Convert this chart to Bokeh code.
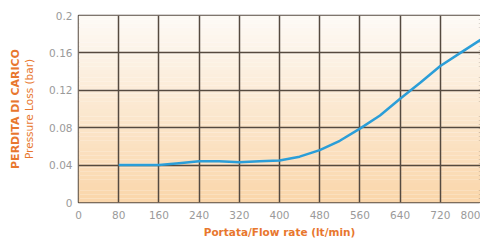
import numpy as np
from bokeh.plotting import figure
from bokeh.models import FixedTicker, Range1d, LinearAxis
from bokeh.embed import file_html
from bokeh.resources import INLINE

# data
flow = [80, 120, 160, 200, 240, 280, 320, 360, 400, 440, 480, 520, 560, 600, 640, 680, 720, 760, 800]
loss = [0.040, 0.040, 0.040, 0.042, 0.044, 0.044, 0.043, 0.044, 0.045, 0.049, 0.056, 0.066,
        0.079, 0.093, 0.111, 0.128, 0.146, 0.160, 0.174]
x_ticks = [0, 80, 160, 240, 320, 400, 480, 560, 640, 720, 800]
y_ticks = [0, 0.04, 0.08, 0.12, 0.16, 0.2]
y_tick_labels = ["0", "0.04", "0.08", "0.12", "0.16", "0.2"]
x_title = "Portata/Flow rate (lt/min)"
y_title_1 = "PERDITA DI CARICO"
y_title_2 = "Pressure Loss (bar)"

FONT = "DejaVu Sans"
ORANGE = "#e8772e"
GRID = "#554a40"

p = figure(width=480, height=240, output_backend="svg", toolbar_location=None,
           x_range=Range1d(x_ticks[0], x_ticks[-1]), y_range=Range1d(y_ticks[0], y_ticks[-1]),
           min_border_left=78, min_border_right=0, min_border_top=15, min_border_bottom=0)
p.outline_line_color = GRID
p.outline_line_width = 1.5
p.background_fill_color = "white"
p.border_fill_color = "white"

# gradient background (decorative bands)
n = 48
edges = np.linspace(y_ticks[0], y_ticks[-1], n + 1)
top_c = np.array([253, 250, 246])
bot_c = np.array([250, 214, 170])
cols = []
for i in range(n):
    t = (i + 0.5) / n
    c = bot_c + (top_c - bot_c) * t
    cols.append("#%02x%02x%02x" % tuple(int(round(v)) for v in c))
p.quad(left=x_ticks[0], right=x_ticks[-1], bottom=edges[:-1], top=edges[1:],
       fill_color=cols, line_color=None, level="image")

# curve
p.line(flow, loss, line_color="#2b9ed8", line_width=2.5)

# grid
for g in (p.xgrid, p.ygrid):
    g.grid_line_color = GRID
    g.grid_line_width = 1.5
p.xgrid.ticker = FixedTicker(ticks=x_ticks)
p.ygrid.ticker = FixedTicker(ticks=y_ticks)

# x axis
xa = p.xaxis[0]
xa.ticker = FixedTicker(ticks=x_ticks)
xa.axis_line_color = None
xa.major_tick_line_color = None
xa.minor_tick_line_color = None
xa.major_tick_out = 0
xa.major_tick_in = 0
xa.major_label_standoff = 8
xa.major_label_text_font = FONT
xa.major_label_text_font_size = "10.5px"
xa.major_label_text_color = "#9a9a9a"
xa.axis_label = x_title
xa.axis_label_text_font = FONT
xa.axis_label_text_font_size = "10.5px"
xa.axis_label_text_font_style = "bold"
xa.axis_label_text_color = ORANGE
xa.axis_label_standoff = 4

# y axis (tick labels only)
ya = p.yaxis[0]
ya.ticker = FixedTicker(ticks=y_ticks)
ya.major_label_overrides = {t: l for t, l in zip(y_ticks, y_tick_labels)}
ya.axis_line_color = None
ya.major_tick_line_color = None
ya.minor_tick_line_color = None
ya.major_tick_out = 0
ya.major_tick_in = 0
ya.major_label_standoff = 6
ya.major_label_text_font = FONT
ya.major_label_text_font_size = "10.5px"
ya.major_label_text_color = "#9a9a9a"

# y titles: two styled lines as label-only axes
ya2 = LinearAxis(ticker=FixedTicker(ticks=[]), axis_line_color=None,
                 major_tick_line_color=None, minor_tick_line_color=None,
                 major_tick_out=0, major_tick_in=0, major_label_standoff=0,
                 axis_label=y_title_2, axis_label_text_font=FONT,
                 axis_label_text_font_size="10.5px", axis_label_text_font_style="normal",
                 axis_label_text_color=ORANGE, axis_label_standoff=12)
p.add_layout(ya2, "left")
ya3 = LinearAxis(ticker=FixedTicker(ticks=[]), axis_line_color=None,
                 major_tick_line_color=None, minor_tick_line_color=None,
                 major_tick_out=0, major_tick_in=0, major_label_standoff=0,
                 axis_label=y_title_1, axis_label_text_font=FONT,
                 axis_label_text_font_size="11px", axis_label_text_font_style="bold",
                 axis_label_text_color=ORANGE, axis_label_standoff=-2)
p.add_layout(ya3, "left")

open("out.html", "w").write(file_html(p, INLINE))
